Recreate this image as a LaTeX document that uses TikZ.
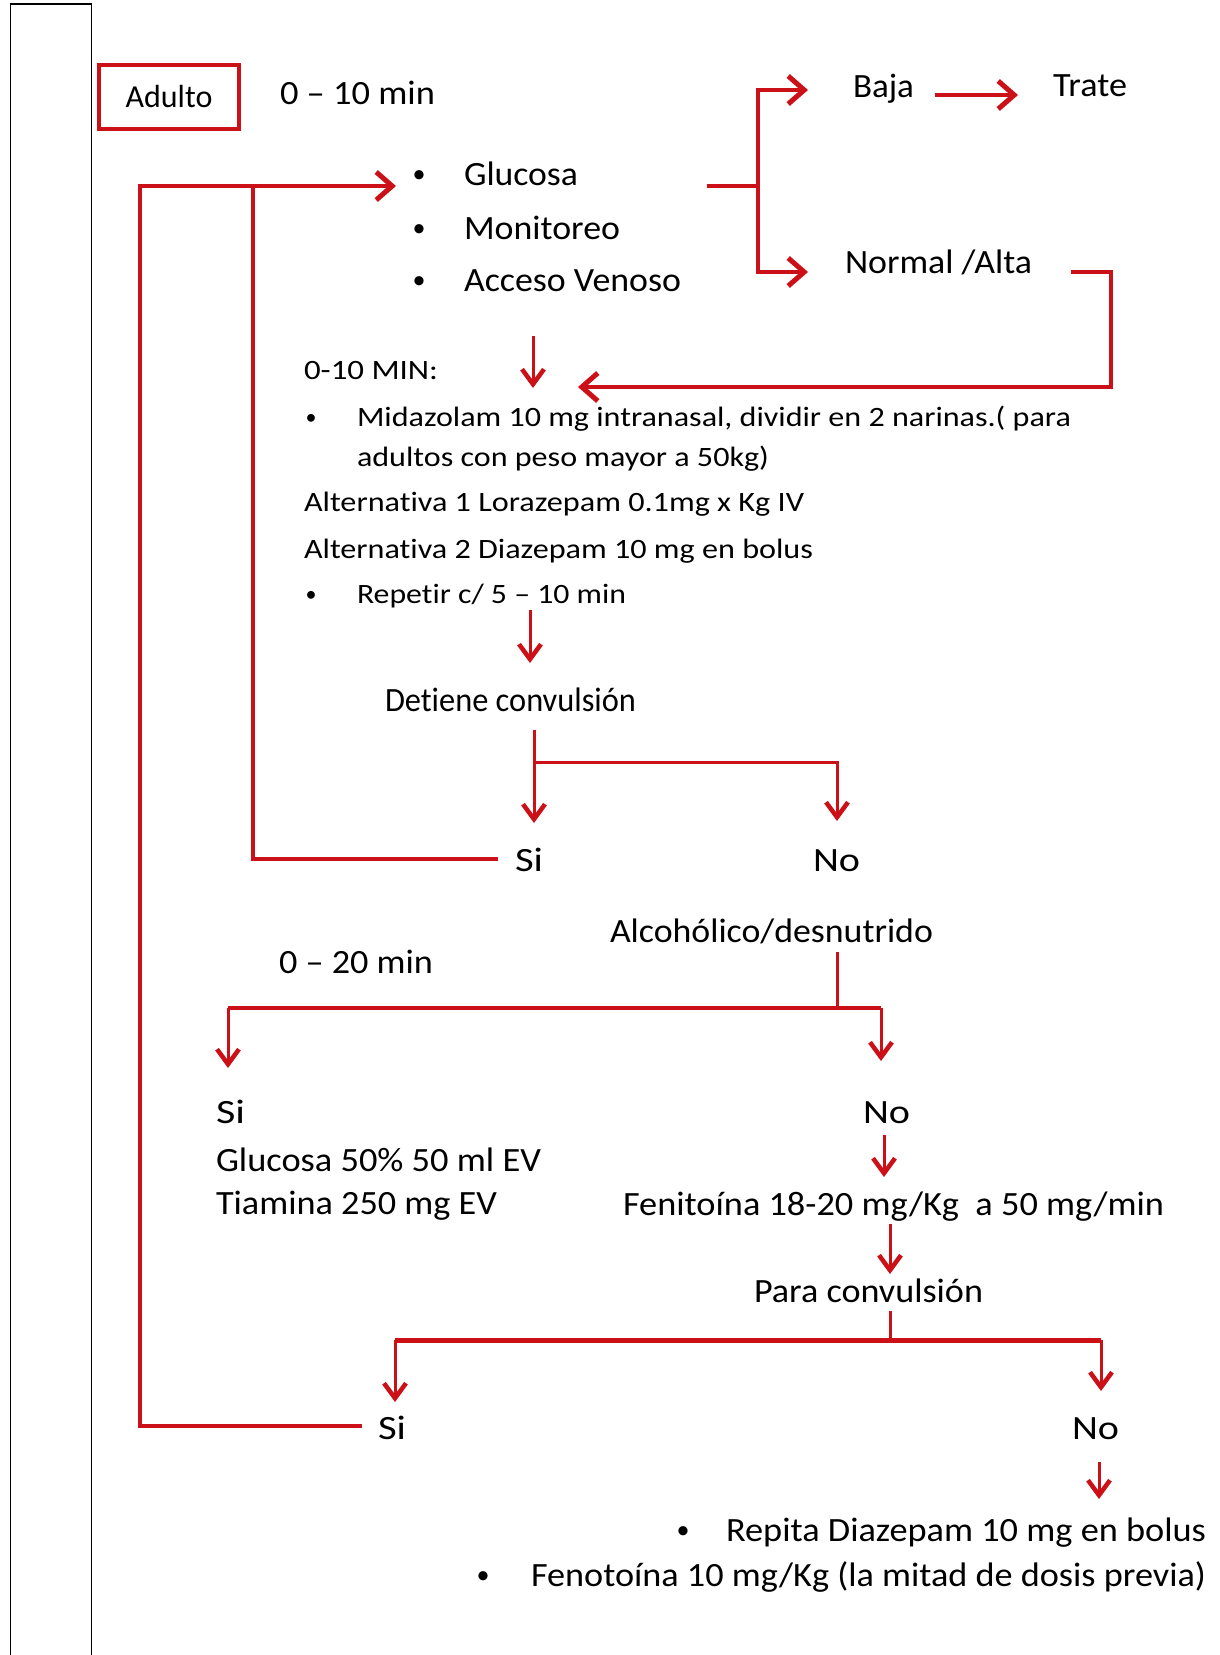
\documentclass[tikz,border=0pt]{standalone}
\usepackage{fontspec}
\setmainfont{Carlito}[Ligatures=NoCommon]
\usetikzlibrary{arrows.meta}
\definecolor{fr}{RGB}{204,16,24}
\newcommand\fitw[2]{\resizebox{#1pt}{\height}{#2}}
\begin{document}
\begin{tikzpicture}[x=1pt,y=-1pt,
  tx/.style={anchor=base west, inner sep=0pt, outer sep=0pt},
  bul/.style={anchor=base, inner sep=0pt, outer sep=0pt},
  fa/.style={font=\fontsize{34}{40}\selectfont},
  fb/.style={font=\fontsize{28}{32}\selectfont},
  fbul/.style={font=\fontsize{26}{30}\selectfont},
  fbulb/.style={font=\fontsize{22}{26}\selectfont},
  ln/.style={draw=fr, line width=3.5pt},
  lnthin/.style={draw=fr, line width=3pt},
  arr/.style={ln, -{Straight Barb[length=16pt,width=28pt,line width=5pt]}},
  darr/.style={lnthin, -{Straight Barb[length=15pt,width=22pt,line width=4.5pt]}},
]
\useasboundingbox (0,0) rectangle (1220,1655);
\fill[white] (0,0) rectangle (1220,1655);
% left black frame
\draw[line width=1.6pt] (10.5,1655) -- (10.5,4) -- (91.5,4) -- (91.5,1655);

% ---------- nodes ----------
\node[draw=fr, line width=3.5pt, minimum width=140pt, minimum height=64pt, inner sep=0pt, font=\fontsize{32}{36}\selectfont] (adulto) at (169,97) {Adulto};
\node[tx,fa] (t10) at (280,104) {\fitw{155}{0 – 10 min}};

\node[bul,fbul] (b1) at (419,182) {•};
\node[bul,fbul] (b2) at (419,236) {•};
\node[bul,fbul] (b3) at (419,288) {•};
\node[tx,fa] (glu) at (464,185) {\fitw{114}{Glucosa}};
\node[tx,fa] (mon) at (464,239) {\fitw{156}{Monitoreo}};
\node[tx,fa] (acc) at (464,291) {\fitw{217}{Acceso Venoso}};

\node[tx,fa] (baja) at (853,97) {\fitw{61}{Baja}};
\node[tx,fa] (trate) at (1053,96) {\fitw{74}{Trate}};
\node[tx,fa] (norm) at (845,273) {\fitw{187}{Normal /Alta}};

\node[tx,fb] (min010) at (304,379) {\fitw{134}{0-10 MIN:}};
\node[bul,fbulb] (b4) at (311,424) {•};
\node[tx,fb] (mid1) at (357,426) {\fitw{714}{Midazolam 10 mg intranasal, dividir en 2 narinas.( para}};
\node[tx,fb] (mid2) at (357,466) {\fitw{412}{adultos con peso mayor a 50kg)}};
\node[tx,fb] (alt1) at (304,511) {\fitw{500}{Alternativa 1 Lorazepam 0.1mg x Kg IV}};
\node[tx,fb] (alt2) at (304,558) {\fitw{509}{Alternativa 2 Diazepam 10 mg en bolus}};
\node[bul,fbulb] (b5) at (311,601) {•};
\node[tx,fb] (rep) at (357,603) {\fitw{269}{Repetir c/ 5 – 10 min}};

\node[tx,fa] (det) at (385,711) {\fitw{251}{Detiene convulsión}};
\node[tx,fa] (si1) at (515,871) {\fitw{28}{Si}};
\node[tx,fa] (no1) at (813,871) {\fitw{47}{No}};

\node[tx,fa] (alc) at (610,942) {\fitw{323}{Alcohólico/desnutrido}};
\node[tx,fa] (t20) at (279,973) {\fitw{154}{0 – 20 min}};
\node[tx,fa] (si2) at (216,1123) {\fitw{29}{Si}};
\node[tx,fa] (no2) at (863,1123) {\fitw{47}{No}};
\node[tx,fa] (glu50) at (216,1171) {\fitw{325}{Glucosa 50\% 50 ml EV}};
\node[tx,fa] (tia) at (216,1214) {\fitw{281}{Tiamina 250 mg EV}};
\node[tx,fa] (fen) at (623,1215) {\fitw{541}{Fenitoína 18-20 mg/Kg\ \ a 50 mg/min}};
\node[tx,fa] (para) at (754,1302) {\fitw{229}{Para convulsión}};
\node[tx,fa] (si3) at (378,1439) {\fitw{28}{Si}};
\node[tx,fa] (no3) at (1072,1439) {\fitw{47}{No}};
\node[bul,fbul] (b6) at (683,1538) {•};
\node[tx,fa] (repita) at (726,1541) {\fitw{480}{Repita Diazepam 10 mg en bolus}};
\node[bul,fbul] (b7) at (483,1583) {•};
\node[tx,fa] (feno) at (531,1586) {\fitw{675}{Fenotoína 10 mg/Kg (la mitad de dosis previa)}};

% ---------- coordinates ----------
\coordinate (o1) at (362,1426);
\coordinate (o2) at (140,1426);
\coordinate (o3) at (140,186);
\coordinate (in1) at (396,186);
\coordinate (i1) at (498,859);
\coordinate (i2) at (253,859);
\coordinate (i3) at (253,186);

\coordinate (g1) at (707,186);
\coordinate (g2) at (758,186);
\coordinate (g3) at (758,90);
\coordinate (g4) at (808,90);
\coordinate (g5) at (758,272);
\coordinate (g6) at (808,272);
\coordinate (bt1) at (935,95);
\coordinate (bt2) at (1018,95);
\coordinate (n1) at (1071,272);
\coordinate (n2) at (1111,272);
\coordinate (n3) at (1111,387);
\coordinate (n4) at (578,387);

\coordinate (a1) at (533,336);
\coordinate (a2) at (533,388);
\coordinate (r1) at (530,610);
\coordinate (r2) at (530,663);
\coordinate (d1) at (534,730);
\coordinate (d2) at (534,823);
\coordinate (d3) at (534,762);
\coordinate (d4) at (837,762);
\coordinate (d5) at (837,821);

\coordinate (al1) at (837,952);
\coordinate (al2) at (837,1008);
\coordinate (al3) at (228,1008);
\coordinate (al4) at (881,1008);
\coordinate (al5) at (228,1068);
\coordinate (al6) at (881,1061);
\coordinate (nf1) at (884,1135);
\coordinate (nf2) at (884,1177);
\coordinate (fp1) at (890,1224);
\coordinate (fp2) at (890,1274);
\coordinate (p1) at (890,1311);
\coordinate (p2) at (890,1340);
\coordinate (p3) at (395,1340);
\coordinate (p4) at (1101,1340);
\coordinate (p5) at (395,1402);
\coordinate (p6) at (1101,1391);
\coordinate (nr1) at (1099,1462);
\coordinate (nr2) at (1099,1499);

% ---------- connectors ----------
\draw[arr] (o1) -- (o2) -- (o3) -- (in1);
\draw[ln] (i1) -- (i2) -- (i3);

\draw[ln] (g1) -- (g2);
\draw[arr] (g2) -- (g3) -- (g4);
\draw[arr] (g2) -- (g5) -- (g6);
\draw[arr] (bt1) -- (bt2);
\draw[arr] (n1) -- (n2) -- (n3) -- (n4);

\draw[darr] (a1) -- (a2);
\draw[darr] (r1) -- (r2);
\draw[darr] (d1) -- (d2);
\draw[darr] (d3) -- (d4) -- (d5);

\draw[lnthin] (al1) -- (al2);
\draw[ln, line width=4.5pt] (al3) -- (al4);
\draw[darr] (al3) -- (al5);
\draw[darr] (al4) -- (al6);
\draw[darr] (nf1) -- (nf2);
\draw[darr] (fp1) -- (fp2);
\draw[lnthin] (p1) -- (p2);
\draw[ln, line width=5pt] (p3) -- (p4);
\draw[darr] (p3) -- (p5);
\draw[darr] (p4) -- (p6);
\draw[darr] (nr1) -- (nr2);
\end{tikzpicture}
\end{document}
